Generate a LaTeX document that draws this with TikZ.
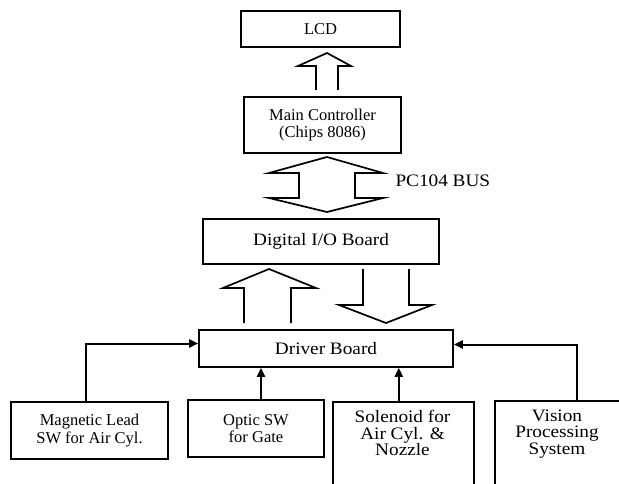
\documentclass[tikz,border=0pt]{standalone}
\usepackage{fontspec}
\setmainfont{Liberation Serif}
\newfontfamily\wfont[FakeStretch=1.1]{Liberation Serif}
\usetikzlibrary{arrows.meta}
\begin{document}
\begin{tikzpicture}[x=1pt,y=-1pt,
  tbox/.style={draw, line width=1.6pt, inner sep=0pt, align=center},
  tfont/.style={font=\fontsize{16.5}{17.5}\selectfont},
  bfont/.style={font=\wfont\fontsize{17.5}{16.8}\selectfont},
  blk/.style={line width=1.7pt, line join=miter},
  conn/.style={line width=2pt, -{Triangle[length=9pt,width=8pt]}}]
\useasboundingbox (0,0) rectangle (619,484);
\clip (0,0) rectangle (619,484);
% boxes
\node[tbox,tfont,minimum width=159pt,minimum height=36pt] (lcd) at (320.5,29) {LCD};
\node[tbox,tfont,minimum width=157pt,minimum height=56pt] (main) at (322.5,125) {Main Controller\\(Chips 8086)};
\node[tbox,bfont,minimum width=236pt,minimum height=45pt] (dio) at (321,241.5) {Digital I/O Board};
\node[tbox,bfont,minimum width=254pt,minimum height=37pt] (drv) at (326,348.5) {Driver Board};
\node[tbox,tfont,minimum width=157pt,minimum height=57pt] (mag) at (89.5,430.5) {Magnetic Lead\\SW for Air Cyl.};
\node[tbox,tfont,minimum width=136pt,minimum height=57pt] (opt) at (256,428.5) {Optic SW\\for Gate};
\node[tbox,minimum width=141pt,minimum height=100pt,anchor=north west] (sol) at (332,401) {};
\node[bfont,align=center] (soltxt) at (402.5,433) {Solenoid for\\Air Cyl. \&\\Nozzle};
\node[tbox,minimum width=132pt,minimum height=100pt,anchor=north west] (vis) at (494,400) {};
\node[bfont,align=center] (vistxt) at (557,434) {Vision\\Processing\\System};
\node[bfont,anchor=west] (bus) at (392,181) {PC104 BUS};
% block arrows
\draw[blk] (316,90)--(316,66)--(298,66)--(327,53)--(351,66)--(338,66)--(338,90);
\draw[blk] (327,157)--(383,173)--(355,173)--(355,198)--(383,198)--(327,212)--(269,198)--(299,198)--(299,173)--(269,173)--cycle;
\draw[blk] (244,323)--(244,288)--(223,288)--(269,269)--(316,288)--(291,288)--(291,323);
\draw[blk] (363,269)--(363,305)--(339,305)--(386,323)--(432,305)--(409,305)--(409,269);
% connectors
\coordinate (lin) at ([yshift=5pt]drv.west);
\coordinate (rin) at ([yshift=4pt]drv.east);
\draw[conn] ([xshift=-3.5pt]mag.north) |- (lin);
\draw[conn] ([xshift=16pt]vis.north) |- (rin);
\draw[conn] ([xshift=5pt]opt.north) -- ([xshift=5pt]opt.north |- drv.south);
\draw[conn] ([xshift=-4.5pt]sol.north) -- ([xshift=-4.5pt]sol.north |- drv.south);
\end{tikzpicture}
\end{document}
